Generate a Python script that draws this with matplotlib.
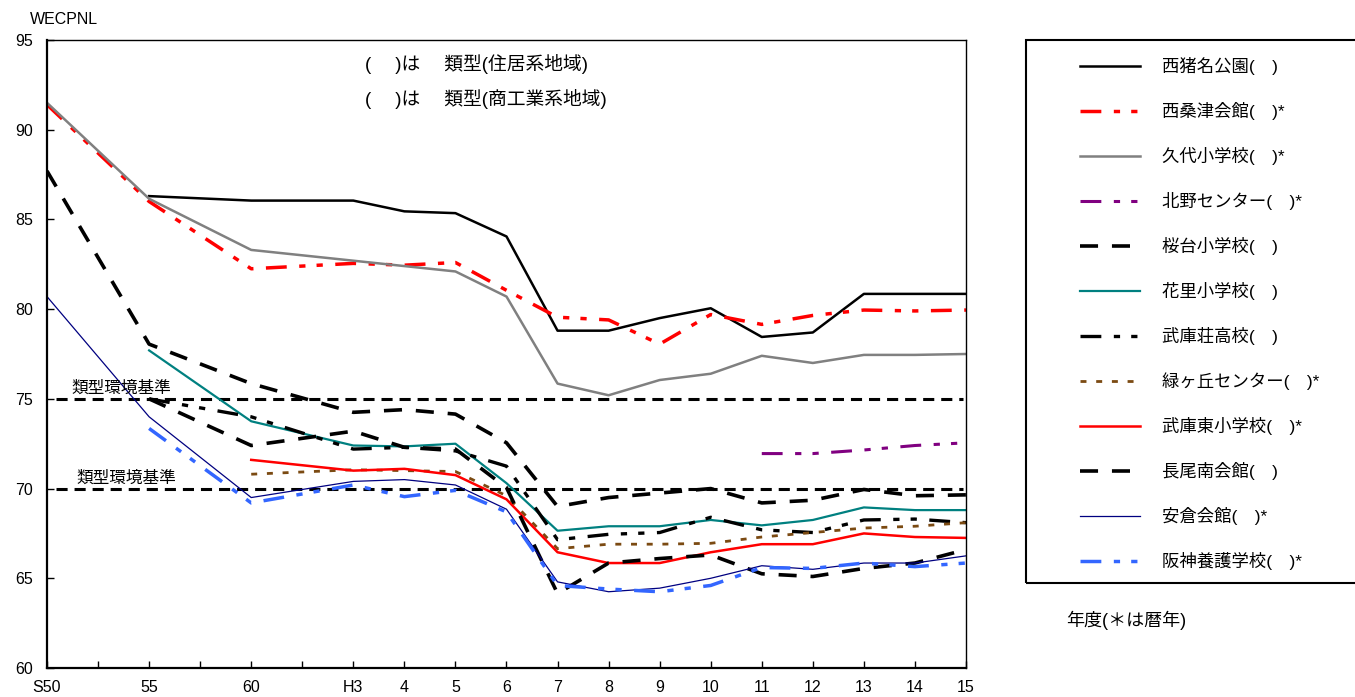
import numpy as np
import matplotlib
matplotlib.use('Agg')
import matplotlib.pyplot as plt
from matplotlib.patches import Rectangle

plt.rcParams['font.family'] = ['Liberation Sans', 'Noto Sans CJK JP', 'DejaVu Sans']
plt.rcParams['lines.scale_dashes'] = False

nan = np.nan
years = ['S50', '55', '60', 'H3', '4', '5', '6', '7', '8', '9', '10', '11', '12', '13', '14', '15']

nishiinaKoen = [nan, 86.3, 86.05, 86.05, 85.45, 85.35, 84.05, 78.8, 78.8, 79.5, 80.05, 78.45, 78.7, 80.85, 80.85, 80.85]
nishikuwazu = [91.4, 86.0, 82.25, 82.55, 82.45, 82.6, 81.05, 79.55, 79.4, 78.05, 79.7, 79.15, 79.65, 79.95, 79.9, 79.95]
kushiro = [91.5, 86.15, 83.3, 82.7, 82.4, 82.1, 80.7, 75.85, 75.2, 76.05, 76.4, 77.4, 77.0, 77.45, 77.45, 77.5]
kitano = [nan] * 11 + [71.95, 71.95, 72.15, 72.4, 72.55]
sakuradai = [87.7, 78.05, 75.85, 74.25, 74.4, 74.15, 72.55, 69.0, 69.5, 69.75, 70.0, 69.2, 69.35, 69.95, 69.6, 69.65]
hanasato = [nan, 77.7, 73.75, 72.4, 72.35, 72.5, 70.3, 67.65, 67.9, 67.9, 68.25, 67.95, 68.25, 68.95, 68.8, 68.8]
mukonoso = [nan, 75.0, 74.0, 72.2, 72.3, 72.1, 71.25, 67.15, 67.45, 67.55, 68.4, 67.7, 67.55, 68.25, 68.3, 68.1]
midorigaoka = [nan, nan, 70.8, 71.05, 71.0, 70.95, 69.6, 66.65, 66.9, 66.9, 66.95, 67.3, 67.55, 67.8, 67.9, 68.1]
mukohigashi = [nan, nan, 71.6, 71.0, 71.1, 70.75, 69.4, 66.45, 65.85, 65.85, 66.45, 66.9, 66.9, 67.5, 67.3, 67.25]
nagaominami = [nan, 75.0, 72.4, 73.2, 72.3, 72.2, 70.05, 64.15, 65.85, 66.1, 66.3, 65.25, 65.1, 65.55, 65.85, 66.6]
akura = [80.7, 74.0, 69.5, 70.4, 70.5, 70.2, 68.85, 64.8, 64.25, 64.45, 65.0, 65.7, 65.5, 65.85, 65.85, 66.25]
hanshin = [nan, 73.35, 69.2, 70.2, 69.55, 69.9, 68.7, 64.6, 64.4, 64.25, 64.6, 65.6, 65.55, 65.85, 65.65, 65.85]

standards = [75, 70]

# S50 -> 55 -> 60 -> H3 are two ticks apart, after that one tick per year
x = np.array([0, 2, 4, 6] + list(range(7, 19)))

longdash = (0, (13, 10))
dashdot2 = (0, (15, 9, 4.5, 8, 4.5, 9))
dots = (0, (4.3, 7))

series = [
    ('西猪名公園(\u3000)', nishiinaKoen, 'black', 1.8, '-'),
    ('西桑津会館(\u3000)*', nishikuwazu, '#FF0000', 2.5, dashdot2),
    ('久代小学校(\u3000)*', kushiro, '#808080', 1.8, '-'),
    ('北野センター(\u3000)*', kitano, '#800080', 2.2, dashdot2),
    ('桜台小学校(\u3000)', sakuradai, 'black', 2.6, longdash),
    ('花里小学校(\u3000)', hanasato, '#008080', 1.6, '-'),
    ('武庫荘高校(\u3000)', mukonoso, 'black', 2.4, dashdot2),
    ('緑ヶ丘センター(\u3000)*', midorigaoka, '#7B4A12', 2.0, dots),
    ('武庫東小学校(\u3000)*', mukohigashi, '#FF0000', 1.8, '-'),
    ('長尾南会館(\u3000)', nagaominami, 'black', 2.6, longdash),
    ('安倉会館(\u3000)*', akura, '#000080', 0.9, '-'),
    ('阪神養護学校(\u3000)*', hanshin, '#3366FF', 2.5, dashdot2),
]

fig = plt.figure(figsize=(13.55, 6.97), dpi=100)
ax = fig.add_axes([47 / 1355, 29 / 697, 919 / 1355, 628 / 697])

for s in standards:
    ax.axhline(s, xmin=0.01, xmax=0.997, color='black', lw=2.2, ls=(0, (8, 5)))

handles = []
for name, vals, color, lw, ls in series:
    v = np.array(vals, dtype=float)
    m = ~np.isnan(v)
    line, = ax.plot(x[m], v[m], color=color, lw=lw, ls=ls, label=name)
    handles.append(line)

ax.set_xlim(0, 18)
ax.set_ylim(60, 95)
ax.set_yticks(np.arange(60, 96, 5))
ax.set_xticks(range(19))
labels = [''] * 19
for xi, yr in zip(x, years):
    labels[xi] = yr
ax.set_xticklabels(labels, fontsize=11.5)
ax.tick_params(axis='y', labelsize=11.5, pad=10)
ax.tick_params(direction='in', length=5, width=1)
ax.tick_params(axis='x', pad=9)
for side in ['left', 'bottom']:
    ax.spines[side].set_linewidth(1.6)
for side in ['top', 'right']:
    ax.spines[side].set_linewidth(1.0)

ax.text(0.48, 75.15, '類型環境基準', fontsize=12, va='bottom')
ax.text(0.57, 70.15, '類型環境基準', fontsize=12, va='bottom')
ax.text(0.346, 0.962, '(\u3000 )は\u3000 類型(住居系地域)', fontsize=13.5,
        transform=ax.transAxes, va='center')
ax.text(0.346, 0.906, '(\u3000 )は\u3000 類型(商工業系地域)', fontsize=13.5,
        transform=ax.transAxes, va='center')

fig.text(30 / 1355, 1 - 20 / 697, 'WECPNL', fontsize=11.5, va='center')
fig.text(1066 / 1355, 1 - 620 / 697, '年度(＊は暦年)', fontsize=13, va='center')

# legend frame runs off the right edge like the original
fig.patches.append(Rectangle((1026 / 1355, 114 / 697), 0.3, 543 / 697,
                             transform=fig.transFigure, fill=False, ec='black', lw=1.5))
fig.legend(handles=handles, loc='upper left', bbox_to_anchor=(1080 / 1355, 1 - 57 / 697),
           frameon=False, borderpad=0, borderaxespad=0, fontsize=12.5,
           handlelength=3.45, handletextpad=1.25, labelspacing=1.555)

fig.savefig('out.png', dpi=100)
